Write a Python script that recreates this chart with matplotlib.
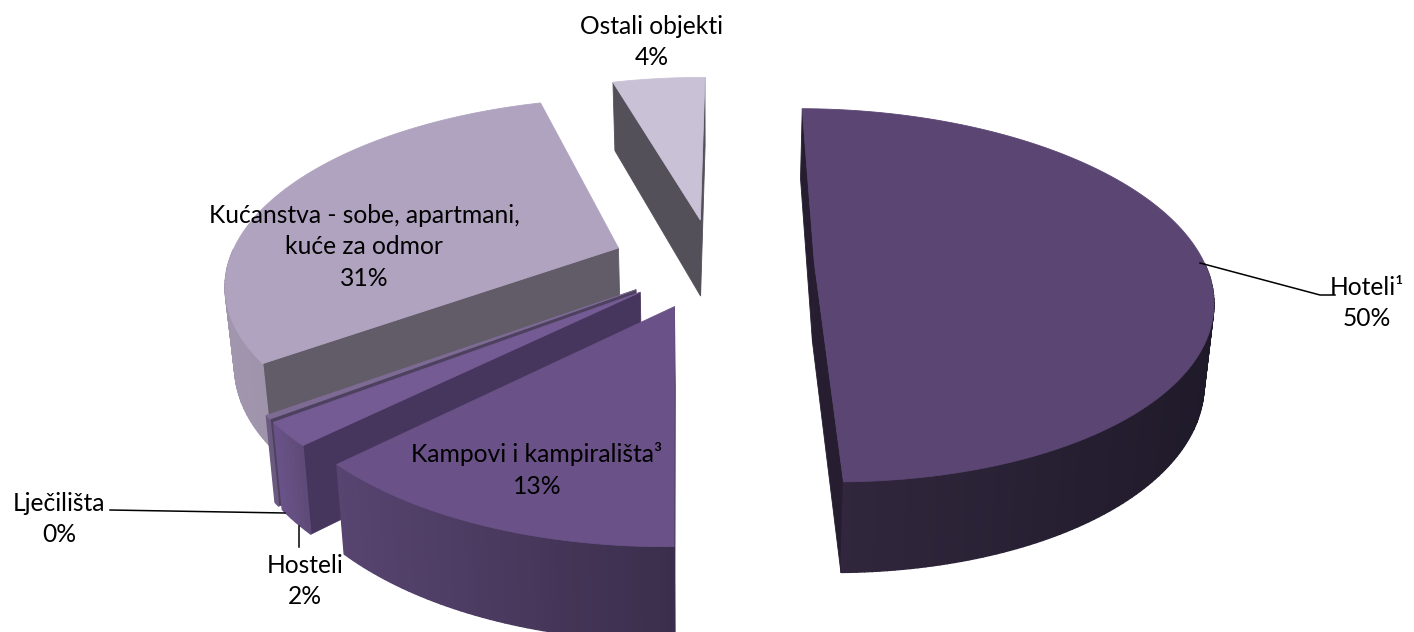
import numpy as np
import matplotlib
matplotlib.use('Agg')
import matplotlib.pyplot as plt
from matplotlib.colors import to_rgb

plt.rcParams['font.family'] = ['Lato', 'DejaVu Sans']

names = ['Hoteli¹', 'Kampovi i kampirališta³', 'Hosteli', 'Lječilišta', 'Kućanstva - sobe, apartmani,\nkuće za odmor', 'Ostali objekti']
shares = [49.6, 12.9, 2, 0.3, 30.6, 4.6]
pct_labels = ['50%', '13%', '2%', '0%', '31%', '4%']

# how far each slice is pulled out
explode = [0.26, 0.25, 0.24, 0.24, 0.26, 0.25]

# colours: top face, rim at the left, rim at the right, flat cut face
top_col = ['#5b4573', '#6a5187', '#755b94', '#7d6b94', '#b0a3c0', '#c9c1d6']
rim_l = ['#33283f', '#574470', '#6a5388', '#6b5a80', '#a196ae', '#a196ae']
rim_r = ['#1f1a2a', '#3b2e4c', '#5d4a78', '#6b5a80', '#8a8294', '#8a8294']
cut_col = ['#261e30', '#3b2e4c', '#46355c', '#4e4160', '#625b68', '#545059']

# camera
cx, cy = 713, 263
A, B = 390, 181
persp = 0.174
depth = 80
shrink = 0.02
start_deg = 89.5


def project(x, y, low):
    # low=0 top face, low=1 bottom face
    w = (1 + persp * y) * (1 + shrink * low)
    return cx + A * x / w, cy - (B * y - depth * low) / w


fig = plt.figure(figsize=(14.14, 6.32), dpi=100)
ax = fig.add_axes([0, 0, 1, 1])
ax.set_xlim(0, 1414)
ax.set_ylim(632, 0)
ax.axis('off')

fracs = np.array(shares) / np.sum(shares)
ends = start_deg - np.cumsum(fracs) * 360
starts = ends + fracs * 360


def poly(pts, col, lw=0.6):
    pts = np.array(pts)
    ax.fill(pts[:, 0], pts[:, 1], facecolor=col, edgecolor=col, lw=lw)


def area(p):
    p = np.array(p)
    return 0.5 * np.sum(p[:, 0] * np.roll(p[:, 1], -1) - np.roll(p[:, 0], -1) * p[:, 1])


# back to front
for i in [5, 4, 3, 2, 1, 0]:
    a0, a1 = np.radians(starts[i]), np.radians(ends[i])
    mid = (a0 + a1) / 2
    ox, oy = explode[i] * np.cos(mid), explode[i] * np.sin(mid)
    t = np.linspace(a0, a1, max(int(abs(a1 - a0) * 60), 3))
    xs, ys = ox + np.cos(t), oy + np.sin(t)

    for side, k in enumerate([0, -1]):
        q = [project(ox, oy, 0), project(xs[k], ys[k], 0), project(xs[k], ys[k], 1), project(ox, oy, 1)]
        s = area(q)
        # only the cut faces that look at the viewer
        if (side == 0 and s < 0) or (side == 1 and s > 0):
            poly(q, cut_col[i])

    top = [project(x, y, 0) for x, y in zip(xs, ys)]
    bot = [project(x, y, 1) for x, y in zip(xs, ys)]
    xmin, xmax = min(p[0] for p in top), max(p[0] for p in top)
    for j in range(len(t) - 1):
        if np.sin((t[j] + t[j + 1]) / 2) > 0:
            continue
        f = ((top[j][0] + top[j + 1][0]) / 2 - xmin) / max(xmax - xmin, 1)
        c = (1 - f) * np.array(to_rgb(rim_l[i])) + f * np.array(to_rgb(rim_r[i]))
        poly([top[j], top[j + 1], bot[j + 1], bot[j]], tuple(c), lw=1.0)

    poly([project(ox, oy, 0)] + top, top_col[i])

# leader lines
ax.plot([1200, 1320, 1335], [263, 295, 295], color='black', lw=1.1)
ax.plot([110, 285], [510, 513], color='black', lw=1.1)
ax.plot([299, 299], [526, 547], color='black', lw=1.1)

fs = 17.7
ls = 1.45
ax.text(652, 42, names[5] + '\n' + pct_labels[5], ha='center', va='center', fontsize=fs, linespacing=ls)
ax.text(1367, 303, names[0] + '\n' + pct_labels[0], ha='center', va='center', fontsize=fs, linespacing=ls)
ax.text(364, 247, names[4] + '\n' + pct_labels[4], ha='center', va='center', fontsize=fs, linespacing=ls)
ax.text(537, 470, names[1] + '\n' + pct_labels[1], ha='center', va='center', fontsize=fs, linespacing=ls)
ax.text(59, 519, names[3] + '\n' + pct_labels[3], ha='center', va='center', fontsize=fs, linespacing=ls)
ax.text(305, 581, names[2] + '\n' + pct_labels[2], ha='center', va='center', fontsize=fs, linespacing=ls)

fig.savefig('out.png', dpi=100)
